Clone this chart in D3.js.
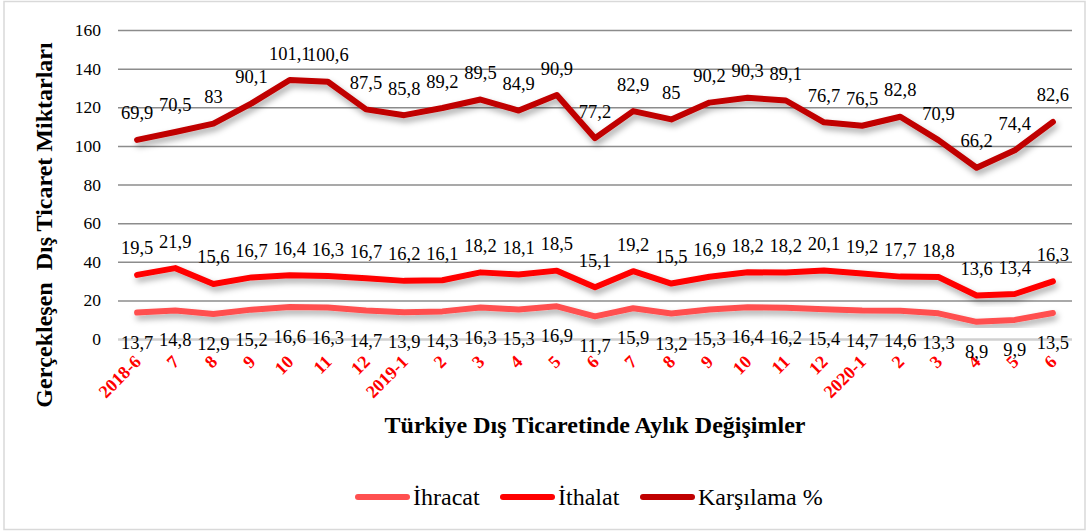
<!DOCTYPE html>
<html>
<head>
<meta charset="utf-8">
<script src="https://cdn.jsdelivr.net/npm/d3@7"></script>
</head>
<body style="margin:0; background:#fff;">
<div id="chart"></div>
<script>
// monthly values
const months = ['2018-6', '7', '8', '9', '10', '11', '12', '2019-1', '2', '3', '4', '5',
	'6', '7', '8', '9', '10', '11', '12', '2020-1', '2', '3', '4', '5', '6'];
const ihracat = [13.7, 14.8, 12.9, 15.2, 16.6, 16.3, 14.7, 13.9, 14.3, 16.3, 15.3, 16.9,
	11.7, 15.9, 13.2, 15.3, 16.4, 16.2, 15.4, 14.7, 14.6, 13.3, 8.9, 9.9, 13.5];
const ithalat = [19.5, 21.9, 15.6, 16.7, 16.4, 16.3, 16.7, 16.2, 16.1, 18.2, 18.1, 18.5,
	15.1, 19.2, 15.5, 16.9, 18.2, 18.2, 20.1, 19.2, 17.7, 18.8, 13.6, 13.4, 16.3];
const karsilama = [69.9, 70.5, 83, 90.1, 101.1, 100.6, 87.5, 85.8, 89.2, 89.5, 84.9, 90.9,
	77.2, 82.9, 85, 90.2, 90.3, 89.1, 76.7, 76.5, 82.8, 70.9, 66.2, 74.4, 82.6];
const yTicks = [0, 20, 40, 60, 80, 100, 120, 140, 160];
const seriesNames = ['İhracat', 'İthalat', 'Karşılama %'];
const seriesColors = ['#ff5050', '#ff0000', '#c00000'];

var FONT = "'Liberation Serif', 'Times New Roman', serif";

var width = 1089,
	height = 531,
	plot = { left: 118, right: 1072, top: 30, bottom: 339 };

var svg = d3.select('#chart').append('svg')
	.attr('width', width)
	.attr('height', height)
	.style('font-family', FONT);

// soft shadow under the lines
var defs = svg.append('defs');
defs.append('filter')
	.attr('id', 'shadow')
	.attr('x', '-5%').attr('y', '-20%')
	.attr('width', '110%').attr('height', '160%')
	.append('feDropShadow')
	.attr('dx', 2).attr('dy', 4)
	.attr('stdDeviation', 3)
	.attr('flood-color', '#000')
	.attr('flood-opacity', 0.35);

// outer frame
svg.append('rect')
	.attr('x', 4).attr('y', 1.5)
	.attr('width', width - 8).attr('height', height - 3)
	.attr('fill', 'none')
	.attr('stroke', '#d9d9d9')
	.attr('stroke-width', 1.5);

var rows = months.map(function(m, i) {
	return { month: m, ihracat: ihracat[i], ithalat: ithalat[i], karsilama: karsilama[i] };
});
var keys = ['ihracat', 'ithalat', 'karsilama'];
var stacked = d3.stack().keys(keys)(rows);

var x = d3.scaleBand()
	.domain(months.map(function(d, i) { return i; }))
	.range([plot.left, plot.right])
	.paddingInner(0);
var cx = function(i) { return x(i) + x.bandwidth() / 2; };

var y = d3.scaleLinear()
	.domain([0, 160])
	.range([plot.bottom, plot.top]);

// y axis + grid
var yAxis = svg.append('g')
	.attr('transform', 'translate(' + plot.left + ',0)')
	.call(d3.axisLeft(y)
		.tickValues(yTicks)
		.tickSize(-(plot.right - plot.left))
		.tickPadding(17));
yAxis.attr('font-family', null);
yAxis.select('.domain').remove();
yAxis.selectAll('.tick line')
	.attr('stroke', function(d) { return d === 0 ? '#d0d0d0' : '#8c8c8c'; })
	.attr('stroke-width', function(d) { return d === 0 ? 2.5 : 1.5; });
yAxis.selectAll('.tick text')
	.attr('fill', '#000')
	.style('font-size', '17.5px')
	.style('font-family', FONT);

// x axis labels (rotated, red bold)
var xAxis = svg.append('g')
	.attr('transform', 'translate(0,' + plot.bottom + ')')
	.call(d3.axisBottom(x).tickSize(0).tickFormat(function(i) { return months[i]; }));
xAxis.attr('font-family', null);
xAxis.select('.domain').remove();
xAxis.selectAll('.tick text')
	.attr('fill', '#ff0000')
	.attr('text-anchor', 'end')
	.attr('dy', 0)
	.attr('y', 0)
	.attr('transform', 'translate(5,24) rotate(-45)')
	.style('font-size', '18px')
	.style('font-weight', 'bold')
	.style('font-family', FONT);

// lines
var line = d3.line()
	.x(function(d, i) { return cx(i); })
	.y(function(d) { return y(d[1]); });

svg.append('g').selectAll('path')
	.data(stacked)
	.enter().append('path')
	.attr('d', line)
	.attr('fill', 'none')
	.attr('stroke', function(d, i) { return seriesColors[i]; })
	.attr('stroke-width', 6)
	.attr('stroke-linejoin', 'round')
	.attr('stroke-linecap', 'round')
	.attr('filter', 'url(#shadow)');

// data labels: raw value, comma decimals; first series below, others above
var fmt = function(v) { return String(v).replace('.', ','); };
stacked.forEach(function(s, k) {
	svg.append('g').selectAll('text')
		.data(s)
		.enter().append('text')
		.attr('x', function(d, i) { return cx(i); })
		.attr('y', function(d) { return y(d[1]) + (k === 0 ? 36 : -20.5); })
		.attr('text-anchor', 'middle')
		.attr('fill', '#000')
		.style('font-size', '18.5px')
		.style('font-family', FONT)
		.text(function(d) { return fmt(d.data[keys[k]]); });
});

// axis titles
svg.append('text')
	.attr('transform', 'translate(52,225) rotate(-90)')
	.attr('text-anchor', 'middle')
	.style('font-size', '24px')
	.style('font-weight', 'bold')
	.style('font-family', FONT)
	.style('white-space', 'pre')
	.text('Gerçekleşen  Dış Ticaret Miktarları');

svg.append('text')
	.attr('x', 595)
	.attr('y', 433)
	.attr('text-anchor', 'middle')
	.style('font-size', '24px')
	.style('font-weight', 'bold')
	.style('font-family', FONT)
	.text('Türkiye Dış Ticaretinde Aylık Değişimler');

// legend
var legendX = [355, 500, 640];
var legend = svg.append('g').selectAll('g')
	.data(seriesNames)
	.enter().append('g')
	.attr('transform', function(d, i) { return 'translate(' + legendX[i] + ',497)'; });
legend.append('line')
	.attr('x1', 3).attr('x2', 52)
	.attr('y1', 0).attr('y2', 0)
	.attr('stroke', function(d, i) { return seriesColors[i]; })
	.attr('stroke-width', 6)
	.attr('stroke-linecap', 'round');
legend.append('text')
	.attr('x', 58)
	.attr('y', 8)
	.style('font-size', '24px')
	.style('font-family', FONT)
	.text(function(d) { return d; });
</script>
</body>
</html>
